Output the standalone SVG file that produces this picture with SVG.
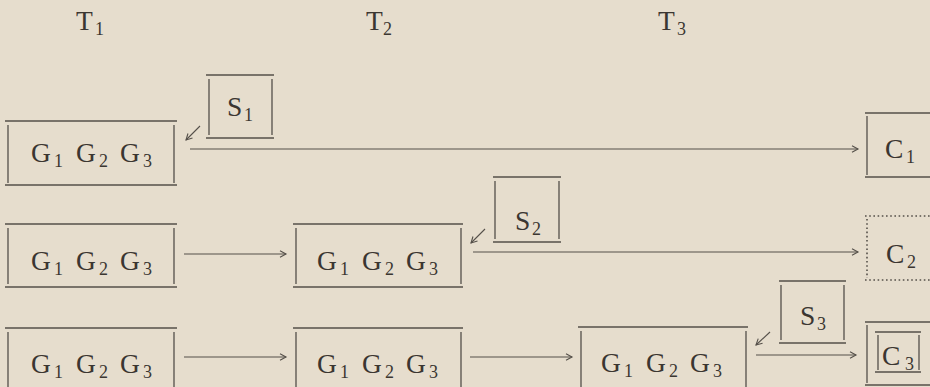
<svg xmlns="http://www.w3.org/2000/svg" width="930" height="387" viewBox="0 0 930 387">
<style>
  .bg{fill:#e6ddcd}
  .ln{stroke:#55504a;stroke-width:1.3;fill:none}
  .dot{stroke:#55504a;stroke-width:1.6;fill:none;stroke-dasharray:1.6 2.6}
  .cn{stroke:#55504a;stroke-width:1.1;fill:none}
  .t{font-family:"Liberation Serif","Times New Roman",serif;font-size:27.5px;fill:#3b3631}
  .s{font-size:18px}
</style>
<defs>
  <marker id="ah" markerUnits="userSpaceOnUse" markerWidth="10" markerHeight="10" refX="7" refY="4" orient="auto">
    <path d="M1,0.8 L7,4 L1,7.2" fill="none" stroke="#55504a" stroke-width="1.1"/>
  </marker>
</defs>
<rect class="bg" x="0" y="0" width="930" height="387"/>

<g id="headers">
  <text class="t" x="76" y="30">T<tspan class="s" x="95" y="35">1</tspan></text>
  <text class="t" x="366" y="30">T<tspan class="s" x="383" y="35">2</tspan></text>
  <text class="t" x="658" y="30">T<tspan class="s" x="677" y="35">3</tspan></text>
</g>

<g id="r1g1">
  <path class="ln" d="M5,121 H177 M8,125 V183 M174,125 V183 M5,185 H177"/>
  <text class="t" x="31" y="162">G<tspan class="s" x="54" y="167">1</tspan><tspan x="76" y="162">G</tspan><tspan class="s" x="99" y="167">2</tspan><tspan x="120" y="162">G</tspan><tspan class="s" x="143" y="167">3</tspan></text>
</g>
<g id="s1">
  <path class="ln" d="M206,75 H274 M209,79 V135 M272,79 V135 M206,138 H274"/>
  <text class="t" x="227" y="116">S<tspan class="s" x="244" y="121">1</tspan></text>
</g>
<g id="c1">
  <path class="ln" d="M865,113 H932 M867,116 V175 M865,177 H932"/>
  <text class="t" x="885" y="158">C<tspan class="s" x="906" y="163">1</tspan></text>
</g>

<g id="r2g1">
  <path class="ln" d="M5,224 H177 M8,228 V284 M174,228 V284 M5,287 H177"/>
  <text class="t" x="31" y="270">G<tspan class="s" x="54" y="275">1</tspan><tspan x="76" y="270">G</tspan><tspan class="s" x="99" y="275">2</tspan><tspan x="120" y="270">G</tspan><tspan class="s" x="143" y="275">3</tspan></text>
</g>
<g id="r2g2">
  <path class="ln" d="M293,224 H463 M296,228 V284 M461,228 V284 M293,287 H463"/>
  <text class="t" x="317" y="270">G<tspan class="s" x="340" y="275">1</tspan><tspan x="362" y="270">G</tspan><tspan class="s" x="385" y="275">2</tspan><tspan x="406" y="270">G</tspan><tspan class="s" x="429" y="275">3</tspan></text>
</g>
<g id="s2">
  <path class="ln" d="M493,177 H561 M495,181 V239 M559,181 V239 M493,242 H561"/>
  <text class="t" x="515" y="230">S<tspan class="s" x="532" y="235">2</tspan></text>
</g>
<g id="c2">
  <path class="dot" d="M865,216 H932 M867,219 V278 M865,280 H932"/>
  <text class="t" x="886" y="263">C<tspan class="s" x="907" y="268">2</tspan></text>
</g>

<g id="r3g1">
  <path class="ln" d="M5,328 H177 M8,332 V392 M174,332 V392"/>
  <text class="t" x="31" y="373">G<tspan class="s" x="54" y="378">1</tspan><tspan x="76" y="373">G</tspan><tspan class="s" x="99" y="378">2</tspan><tspan x="120" y="373">G</tspan><tspan class="s" x="143" y="378">3</tspan></text>
</g>
<g id="r3g2">
  <path class="ln" d="M293,328 H463 M296,332 V392 M461,332 V392"/>
  <text class="t" x="317" y="373">G<tspan class="s" x="340" y="378">1</tspan><tspan x="362" y="373">G</tspan><tspan class="s" x="385" y="378">2</tspan><tspan x="406" y="373">G</tspan><tspan class="s" x="429" y="378">3</tspan></text>
</g>
<g id="r3g3">
  <path class="ln" d="M578,327 H748 M581,331 V392 M746,331 V392"/>
  <text class="t" x="601" y="372">G<tspan class="s" x="624" y="377">1</tspan><tspan x="646" y="372">G</tspan><tspan class="s" x="669" y="377">2</tspan><tspan x="690" y="372">G</tspan><tspan class="s" x="713" y="377">3</tspan></text>
</g>
<g id="s3">
  <path class="ln" d="M779,281 H846 M781,285 V340 M844,285 V340 M779,343 H846"/>
  <text class="t" x="800" y="325">S<tspan class="s" x="817" y="330">3</tspan></text>
</g>
<g id="c3">
  <path class="ln" d="M865,322 H932 M867,325 V383 M865,385 H932"/>
  <path class="ln" d="M875,332 H921 M878,335 V370 M919,335 V370 M875,372 H921"/>
  <text class="t" x="882" y="365">C<tspan class="s" x="905" y="370">3</tspan></text>
</g>

<g id="connectors">
  <line class="cn" x1="200" y1="126" x2="186" y2="140" marker-end="url(#ah)"/>
  <line class="cn" x1="190" y1="149" x2="858" y2="149" marker-end="url(#ah)"/>
  <line class="cn" x1="184" y1="254" x2="286" y2="254" marker-end="url(#ah)"/>
  <line class="cn" x1="485" y1="229" x2="471" y2="243" marker-end="url(#ah)"/>
  <line class="cn" x1="473" y1="252" x2="858" y2="252" marker-end="url(#ah)"/>
  <line class="cn" x1="184" y1="357" x2="286" y2="357" marker-end="url(#ah)"/>
  <line class="cn" x1="470" y1="357" x2="572" y2="357" marker-end="url(#ah)"/>
  <line class="cn" x1="770" y1="332" x2="756" y2="345" marker-end="url(#ah)"/>
  <line class="cn" x1="756" y1="355" x2="856" y2="355" marker-end="url(#ah)"/>
</g>
</svg>
